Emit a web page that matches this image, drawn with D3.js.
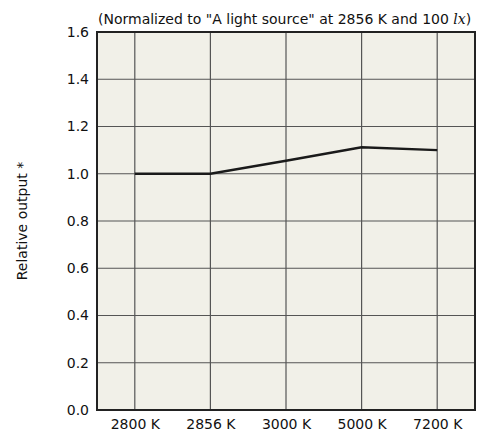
<!DOCTYPE html>
<html>
<head>
<meta charset="utf-8">
<script src="https://cdn.jsdelivr.net/npm/d3@7"></script>
<style>
  body { margin: 0; background: #fff; }
  text { font-family: "DejaVu Sans", Verdana, sans-serif; fill: #111; }
</style>
</head>
<body>
<div id="chart"></div>
<script>
// data
let categories = ["2800 K", "2856 K", "3000 K", "5000 K", "7200 K"];
let values = [1.0, 1.0, 1.055, 1.112, 1.1];
let yTicks = [0.0, 0.2, 0.4, 0.6, 0.8, 1.0, 1.2, 1.4, 1.6];

let svgWidth = 479;
let svgHeight = 433;

let margin = { top: 32, right: 4, bottom: 23, left: 97 };
let width = svgWidth - margin.left - margin.right;
let height = svgHeight - margin.top - margin.bottom;

let svg = d3.select("#chart")
    .append("svg")
    .attr("width", svgWidth)
    .attr("height", svgHeight);

let chartGroup = svg.append("g")
    .attr("transform", `translate(${margin.left}, ${margin.top})`);

// scales
let xScale = d3.scalePoint()
    .domain(categories)
    .range([0, width])
    .padding(0.5);

let yScale = d3.scaleLinear()
    .domain([0, 1.6])
    .range([height, 0]);

// plot background
chartGroup.append("rect")
    .attr("width", width)
    .attr("height", height)
    .attr("fill", "#f1f0e8");

// grid lines
chartGroup.append("g")
    .selectAll("line")
    .data(yTicks)
    .enter()
    .append("line")
    .attr("x1", 0)
    .attr("x2", width)
    .attr("y1", d => yScale(d))
    .attr("y2", d => yScale(d))
    .attr("stroke", "#555")
    .attr("stroke-width", 1.2);

chartGroup.append("g")
    .selectAll("line")
    .data(categories)
    .enter()
    .append("line")
    .attr("x1", d => xScale(d))
    .attr("x2", d => xScale(d))
    .attr("y1", 0)
    .attr("y2", height)
    .attr("stroke", "#555")
    .attr("stroke-width", 1.2);

// frame
chartGroup.append("rect")
    .attr("width", width)
    .attr("height", height)
    .attr("fill", "none")
    .attr("stroke", "#222")
    .attr("stroke-width", 2);

// axes (labels only)
let leftAxis = d3.axisLeft(yScale)
    .tickValues(yTicks)
    .tickFormat(d3.format(".1f"))
    .tickSize(0)
    .tickPadding(8);

let bottomAxis = d3.axisBottom(xScale)
    .tickSize(0)
    .tickPadding(9);

let yAxis = chartGroup.append("g").call(leftAxis);
let xAxis = chartGroup.append("g")
    .attr("transform", `translate(0,${height})`)
    .call(bottomAxis);

[yAxis, xAxis].forEach(ax => {
    ax.select(".domain").remove();
    ax.selectAll("text")
        .attr("font-size", 14)
        .attr("font-family", "DejaVu Sans, Verdana, sans-serif")
        .attr("fill", "#111");
});

// the line
let line = d3.line()
    .x((d, i) => xScale(categories[i]))
    .y(d => yScale(d));

chartGroup.append("path")
    .datum(values)
    .attr("d", line)
    .attr("fill", "none")
    .attr("stroke", "#1a1a1a")
    .attr("stroke-width", 2.5);

// y axis label
svg.append("text")
    .attr("transform", `translate(27, ${margin.top + height / 2}) rotate(-90)`)
    .attr("text-anchor", "middle")
    .attr("font-size", 14)
    .text("Relative output *");

// subtitle
let title = svg.append("text")
    .attr("x", margin.left + 1)
    .attr("y", 24)
    .attr("font-size", 14);
title.append("tspan").text('(Normalized to "A light source" at 2856 K and 100 ');
title.append("tspan")
    .attr("font-family", "DejaVu Serif, serif")
    .attr("font-style", "italic")
    .text("lx");
title.append("tspan").text(")");
</script>
</body>
</html>
